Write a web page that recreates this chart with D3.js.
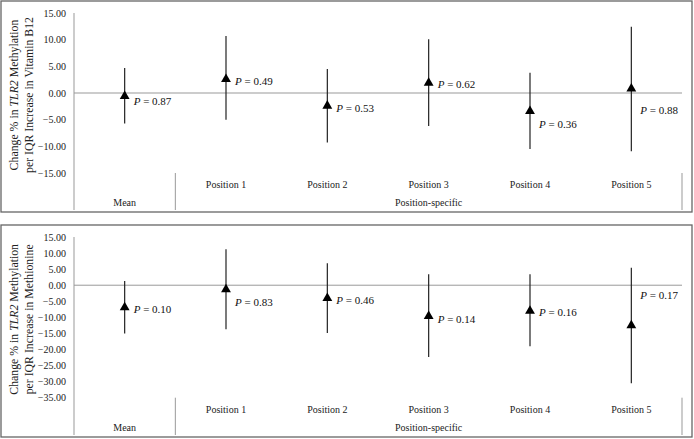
<!DOCTYPE html>
<html>
<head>
<meta charset="utf-8">
<script src="https://cdn.jsdelivr.net/npm/d3@7"></script>
<style>
  body { margin: 0; background: #fff; }
  svg { display: block; font-family: "Liberation Serif", "Times New Roman", serif; }
</style>
</head>
<body>
<svg id="chart" width="694" height="439"></svg>
<script>
// categories
const categories = ['Mean', 'Position 1', 'Position 2', 'Position 3', 'Position 4', 'Position 5'];
const groupLabels = ['Mean', 'Position-specific'];

// Vitamin B12 panel
const b12Est = [-0.6, 2.6, -2.4, 1.9, -3.4, 0.8];
const b12Low = [-5.7, -5.0, -9.3, -6.2, -10.5, -10.9];
const b12High = [4.7, 10.7, 4.5, 10.1, 3.8, 12.4];
const b12P = ['0.87', '0.49', '0.53', '0.62', '0.36', '0.88'];
const b12LabelAt = [-1.5, 2.25, -2.8, 1.7, -5.8, -3.2];
const b12Ticks = [15, 10, 5, 0, -5, -10, -15];

// Methionine panel
const metEst = [-6.9, -1.3, -4.0, -9.6, -8.0, -12.5];
const metLow = [-15.0, -13.7, -14.9, -22.3, -19.0, -30.5];
const metHigh = [1.3, 11.2, 6.8, 3.4, 3.4, 5.4];
const metP = ['0.10', '0.83', '0.46', '0.14', '0.16', '0.17'];
const metLabelAt = [-7.5, -5.2, -4.7, -10.5, -8.4, -3.1];
const metTicks = [15, 10, 5, 0, -5, -10, -15, -20, -25, -30, -35];

const svg = d3.select('#chart');

// Function to draw one panel
function drawPanel(opts) {
  const g = svg.append('g').attr('transform', `translate(0, ${opts.top})`);
  const left = 74, right = 682;

  // border
  g.append('rect')
    .attr('x', 1).attr('y', 1)
    .attr('width', 691).attr('height', opts.height - 1)
    .attr('fill', 'none')
    .attr('stroke', '#666')
    .attr('stroke-width', 1.3);

  const x = d3.scaleBand()
    .domain(categories)
    .range([left, right]);

  const y = d3.scaleLinear()
    .domain([opts.ticks[opts.ticks.length - 1], opts.ticks[0]])
    .range([opts.y1, opts.y0]);

  // y axis (no tick marks, Excel style)
  const yAxis = g.append('g')
    .attr('transform', `translate(${left}, 0)`)
    .call(d3.axisLeft(y).tickValues(opts.ticks).tickSize(0).tickPadding(8).tickFormat(d3.format('.2f')));
  yAxis.select('.domain').remove();
  yAxis.selectAll('text')
    .attr('font-size', 10)
    .attr('font-family', '"Liberation Serif", serif')
    .attr('fill', '#222');

  g.append('line')
    .attr('x1', left).attr('x2', left)
    .attr('y1', opts.y0).attr('y2', opts.height - 2)
    .attr('stroke', '#999');

  // zero line
  g.append('line')
    .attr('x1', left).attr('x2', right)
    .attr('y1', y(0)).attr('y2', y(0))
    .attr('stroke', '#999');

  // category dividers
  [x('Position 1'), right].forEach(xx => {
    g.append('line')
      .attr('x1', xx).attr('x2', xx)
      .attr('y1', opts.y1).attr('y2', opts.height - 2)
      .attr('stroke', '#999');
  });

  // category labels
  g.selectAll('.cat')
    .data(categories.slice(1))
    .enter().append('text')
    .attr('x', d => x(d) + x.bandwidth() / 2)
    .attr('y', opts.catY)
    .attr('text-anchor', 'middle')
    .attr('font-size', 10)
    .attr('fill', '#222')
    .text(d => d);

  g.selectAll('.grp')
    .data(groupLabels)
    .enter().append('text')
    .attr('x', (d, i) => i === 0 ? x('Mean') + x.bandwidth() / 2 : (x('Position 1') + right) / 2)
    .attr('y', opts.grpY)
    .attr('text-anchor', 'middle')
    .attr('font-size', 10)
    .attr('fill', '#222')
    .text(d => d);

  // confidence intervals
  g.selectAll('.ci')
    .data(categories)
    .enter().append('line')
    .attr('x1', d => x(d) + x.bandwidth() / 2)
    .attr('x2', d => x(d) + x.bandwidth() / 2)
    .attr('y1', (d, i) => y(opts.high[i]))
    .attr('y2', (d, i) => y(opts.low[i]))
    .attr('stroke', '#222')
    .attr('stroke-width', 1.2);

  // point estimates
  g.selectAll('.pt')
    .data(categories)
    .enter().append('path')
    .attr('d', d3.symbol(d3.symbolTriangle, 42))
    .attr('transform', (d, i) => `translate(${x(d) + x.bandwidth() / 2}, ${y(opts.est[i])})`)
    .attr('fill', '#000');

  // P labels
  const lbl = g.selectAll('.pl')
    .data(categories)
    .enter().append('text')
    .attr('x', d => x(d) + x.bandwidth() / 2 + 9)
    .attr('y', (d, i) => y(opts.labelAt[i]))
    .attr('dy', '0.35em')
    .attr('font-size', 11)
    .attr('fill', '#111');
  lbl.append('tspan').attr('font-style', 'italic').text('P');
  lbl.append('tspan').text((d, i) => ` = ${opts.p[i]}`);

  // y axis title
  const t = g.append('text')
    .attr('transform', `translate(0, ${(opts.y0 + opts.y1) / 2 + 2}) rotate(-90)`)
    .attr('text-anchor', 'middle')
    .attr('font-size', 11.8)
    .attr('fill', '#222');
  const l1 = t.append('tspan').attr('x', 0).attr('y', 18);
  l1.append('tspan').text('Change % in ');
  l1.append('tspan').attr('font-style', 'italic').text('TLR2');
  l1.append('tspan').text(' Methylation');
  t.append('tspan').attr('x', 0).attr('y', 33).text(opts.title2);
}

drawPanel({
  top: 0, height: 212, y0: 13, y1: 173, catY: 188, grpY: 206,
  est: b12Est, low: b12Low, high: b12High, p: b12P, labelAt: b12LabelAt,
  ticks: b12Ticks, title2: 'per IQR Increase in Vitamin B12'
});

drawPanel({
  top: 224, height: 213, y0: 13, y1: 173.7, catY: 189, grpY: 207,
  est: metEst, low: metLow, high: metHigh, p: metP, labelAt: metLabelAt,
  ticks: metTicks, title2: 'per IQR Increase in Methionine'
});
</script>
</body>
</html>
